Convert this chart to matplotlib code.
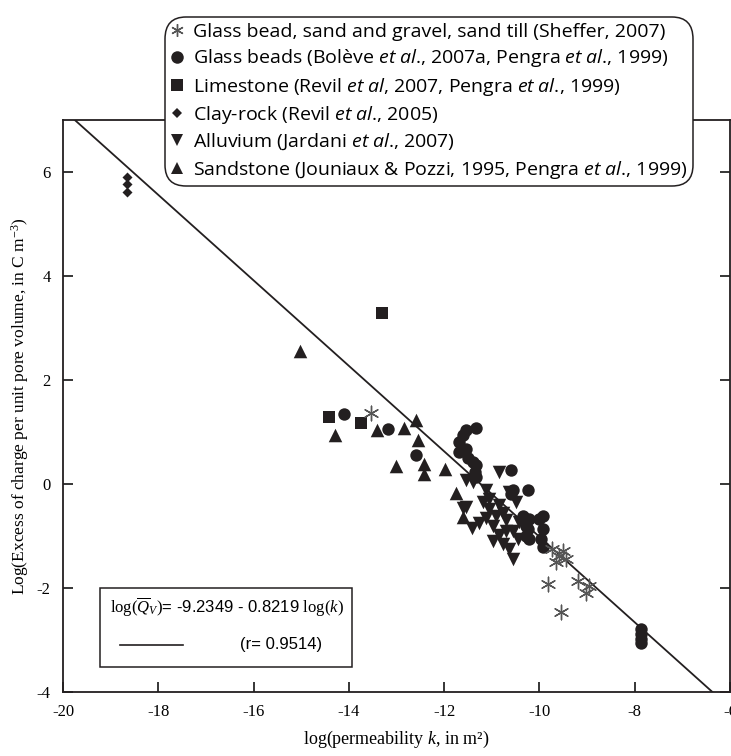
import numpy as np
import matplotlib
matplotlib.use("Agg")
import matplotlib.pyplot as plt
from matplotlib.lines import Line2D
from matplotlib.patches import Rectangle

# fonts: serif axes, sans legend; mathtext used for italics
plt.rcParams['mathtext.fontset'] = 'custom'
plt.rcParams['mathtext.rm'] = 'Liberation Serif'
plt.rcParams['mathtext.it'] = 'Liberation Serif:italic'
plt.rcParams['mathtext.sf'] = 'Open Sans:italic'
plt.rcParams['axes.unicode_minus'] = False

# ---------------- data ----------------
sheffer_x = [-13.53, -9.73, -9.51, -9.65, -9.44, -9.58, -9.83, -9.55, -9.20, -8.95, -9.02]
sheffer_y = [1.37, -1.25, -1.28, -1.51, -1.45, -1.38, -1.93, -2.46, -1.86, -1.96, -2.09]

beads_x = [-14.10, -13.18, -12.60,
           -11.54, -11.33, -11.68, -11.68, -11.54, -11.50, -11.40, -11.33, -11.36, -11.33, -11.61,
           -10.59, -10.56, -10.24, -10.59,
           -10.35, -10.21, -10.24, -10.21, -10.00, -9.93, -9.93, -9.96, -9.93, -10.28, -10.28,
           -7.87, -7.87, -7.87, -7.87]
beads_y = [1.34, 1.06, 0.55,
           1.04, 1.07, 0.81, 0.62, 0.68, 0.49, 0.42, 0.36, 0.23, 0.13, 0.95,
           0.26, -0.12, -0.12, -0.19,
           -0.61, -0.67, -0.87, -1.06, -0.67, -0.61, -0.87, -1.06, -1.22, -0.80, -1.00,
           -2.78, -2.88, -2.98, -3.05]

limestone_x = [-13.30, -14.42, -13.74]
limestone_y = [3.28, 1.29, 1.18]

clay_x = [-18.66, -18.66, -18.66]
clay_y = [5.90, 5.77, 5.62]

alluvium_x = [-11.61, -11.41, -11.54, -11.40, -10.84, -11.12, -11.05, -11.54,
              -11.19, -11.05, -10.91, -10.98, -10.84, -10.98, -10.70, -10.63, -10.56,
              -10.46, -10.42, -10.49, -10.63, -10.77, -10.70, -10.84, -11.12, -10.56,
              -10.77, -11.26]
alluvium_y = [-0.47, -0.85, 0.07, 0.04, 0.23, -0.12, -0.29, -0.45,
              -0.35, -0.48, -0.61, -0.80, -0.99, -1.09, -0.90, -1.25, -1.45,
              -1.06, -0.74, -0.35, -0.16, -0.55, -0.70, -0.40, -0.65, -0.90,
              -1.15, -0.75]

sandstone_x = [-15.03, -14.30, -13.41, -12.85, -12.59, -12.55, -13.02, -12.43, -12.43,
               -11.98, -11.75, -11.61]
sandstone_y = [2.56, 0.95, 1.03, 1.08, 1.23, 0.84, 0.35, 0.39, 0.20,
               0.28, -0.17, -0.63]

fit_a = -9.2349
fit_b = -0.8219
fit_r = 0.9514

x_ticks = [-20, -18, -16, -14, -12, -10, -8, -6]
y_ticks = [-4, -2, 0, 2, 4, 6]

labels = [
    "Glass bead, sand and gravel, sand till (Sheffer, 2007)",
    r"Glass beads (Bolève $\mathsf{et\ al}$., 2007a, Pengra $\mathsf{et\ al}$., 1999)",
    r"Limestone (Revil $\mathsf{et\ al}$, 2007, Pengra $\mathsf{et\ al}$., 1999)",
    r"Clay-rock (Revil $\mathsf{et\ al}$., 2005)",
    r"Alluvium (Jardani $\mathsf{et\ al}$., 2007)",
    r"Sandstone (Jouniaux & Pozzi, 1995, Pengra $\mathsf{et\ al}$., 1999)",
]

# ---------------- plotting ----------------
ink = '#231f20'
fig = plt.figure(figsize=(7.31, 7.56), dpi=100)
ax = fig.add_axes([0.0862, 0.0847, 0.9124, 0.7566])

fx = np.array([-20.0, -6.0])
ax.plot(fx, fit_a + fit_b * fx, color=ink, lw=1.3, zorder=1)

ax.scatter(sandstone_x, sandstone_y, marker='^', s=95, color=ink, lw=0, zorder=2)
ax.scatter(alluvium_x, alluvium_y, marker='v', s=95, color=ink, lw=0, zorder=2)
ax.scatter(beads_x, beads_y, marker='o', s=80, color=ink, lw=0, zorder=3)
ax.scatter(limestone_x, limestone_y, marker='s', s=70, color=ink, lw=0, zorder=3)
ax.scatter(clay_x, clay_y, marker='D', s=26, color=ink, lw=0, zorder=3)
ax.scatter(sheffer_x, sheffer_y, marker=(6, 2, 0), s=110, color='#555555', lw=1.0, zorder=4)

ax.set_xlim(-20, -6)
ax.set_ylim(-4, 7)
ax.set_xticks(x_ticks)
ax.set_yticks(y_ticks)
ax.tick_params(direction='in', length=7, width=1.1, right=True, labelsize=12, pad=9)
for lab in ax.get_xticklabels() + ax.get_yticklabels():
    lab.set_fontfamily('Liberation Serif')
for sp in ax.spines.values():
    sp.set_linewidth(1.3)
    sp.set_color(ink)

ax.set_xlabel(r"log(permeability $k$, in m²)", fontsize=13, family='Liberation Serif', labelpad=6)
ax.set_ylabel(r"Log(Excess of charge per unit pore volume, in C m$^{-3}$)", fontsize=12.5,
              family='Liberation Serif', labelpad=4)

# legend of data sets
handles = [
    Line2D([], [], ls='none', marker=(6, 2, 0), ms=9, color='#555555', mew=1.0),
    Line2D([], [], ls='none', marker='o', ms=9, color=ink, mew=0),
    Line2D([], [], ls='none', marker='s', ms=8, color=ink, mew=0),
    Line2D([], [], ls='none', marker='D', ms=5.5, color=ink, mew=0),
    Line2D([], [], ls='none', marker='v', ms=9, color=ink, mew=0),
    Line2D([], [], ls='none', marker='^', ms=9, color=ink, mew=0),
]
leg = fig.legend(handles, labels, loc='upper left', bbox_to_anchor=(0.212, 0.99),
                 prop={'family': 'Open Sans', 'size': 14}, handlelength=0.7,
                 handletextpad=0.45, labelspacing=0.32, borderpad=0.3,
                 fancybox=True, framealpha=1, edgecolor=ink)
leg.get_frame().set_linewidth(1.1)
leg.get_frame().set_boxstyle('round,pad=0,rounding_size=1.1')

# equation box
fig.patches.append(Rectangle((0.137, 0.1177), 0.345, 0.1045, transform=fig.transFigure,
                             fill=False, edgecolor=ink, lw=1.1))
fig.text(0.150, 0.197, r"$\mathrm{log(}\overline{Q}_V\mathrm{)}$= %.4f - %.4f $\mathrm{log(}k\mathrm{)}$"
         % (fit_a, -fit_b), family='Liberation Sans', fontsize=12, va='center')
fig.lines.append(Line2D([0.164, 0.250], [0.147, 0.147], transform=fig.transFigure, color=ink, lw=1.2))
fig.text(0.328, 0.147, "(r= %.4f)" % fit_r, family='Liberation Sans', fontsize=12, va='center')

fig.savefig("out.png", dpi=100)
